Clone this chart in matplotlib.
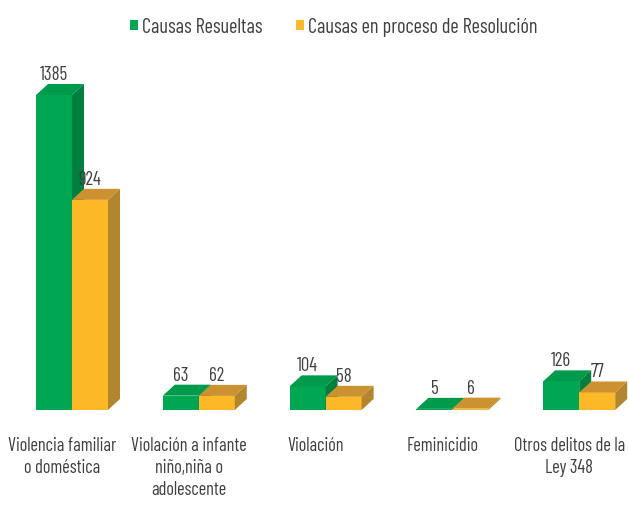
import numpy as np
import matplotlib
matplotlib.use("Agg")
import matplotlib.pyplot as plt
from matplotlib.patches import Polygon, Rectangle

# data
categories = ["Violencia familiar\no doméstica", "Violación a infante\nniño,niña o\nadolescente",
              "Violación", "Feminicidio", "Otros delitos de la\nLey 348"]
series_names = ["Causas Resueltas", "Causas en proceso de Resolución"]
resueltas = [1385, 63, 104, 5, 126]
en_proceso = [924, 62, 58, 6, 77]

# colours: front, top, side
green = ("#00A651", "#009A4C", "#007F3E")
orange = ("#FDB827", "#CC9230", "#B3862E")
text_col = "#404040"

plt.rcParams['font.family'] = ['Barlow Condensed', 'DejaVu Sans']

W, H = 629, 505
fig = plt.figure(figsize=(W / 100, H / 100), dpi=100)
ax = fig.add_axes([0, 0, 1, 1])
ax.axis("off")

# pixel layout
base_px = 410          # baseline from top
px_per_val = 315 / 1385
group_px = 126.8
first_px = 72
k = 1 / px_per_val
ax.set_ylim(-(H - base_px) * k, base_px * k)
ax.set_xlim(-first_px / group_px, (W - first_px) / group_px)

bw = 36 / group_px
dx = 12 / group_px
dy = 11 * k


def bar3d(x0, h, cols):
    front, top, side = cols
    ax.add_patch(Rectangle((x0, 0), bw, h, facecolor=front, edgecolor="none", zorder=2))
    ax.add_patch(Polygon([(x0, h), (x0 + bw, h), (x0 + bw + dx, h + dy), (x0 + dx, h + dy)],
                         closed=True, facecolor=top, edgecolor="none", zorder=2))
    ax.add_patch(Polygon([(x0 + bw, 0), (x0 + bw + dx, dy), (x0 + bw + dx, h + dy), (x0 + bw, h)],
                         closed=True, facecolor=side, edgecolor="none", zorder=2))


x = np.arange(len(categories))
for i in x:
    bar3d(i - bw, resueltas[i], green)
    bar3d(i, en_proceso[i], orange)
for i in x:
    for x0, v in ((i - bw, resueltas[i]), (i, en_proceso[i])):
        ax.text(x0 + bw / 2, v + dy, str(v), ha="center", va="bottom",
                fontsize=13.5, color=text_col, zorder=5)

# category labels
for i, lab in zip(x, categories):
    ax.text(i - 10 / group_px, -(437 - base_px) * k, lab, ha="center", va="top",
            fontsize=13.2, color=text_col, linespacing=1.3)

# legend
for name, col, sx, tx in ((series_names[0], green[0], 130, 141.5),
                          (series_names[1], orange[0], 296, 308)):
    fig.patches.append(Rectangle((sx / W, 1 - 30 / H), 7.5 / W, 10 / H, facecolor=col,
                                 edgecolor="none", transform=fig.transFigure))
    fig.text(tx / W, 1 - 33.3 / H, name, ha="left", va="baseline", fontsize=14.6, color=text_col)

fig.savefig("out.png", dpi=100)
